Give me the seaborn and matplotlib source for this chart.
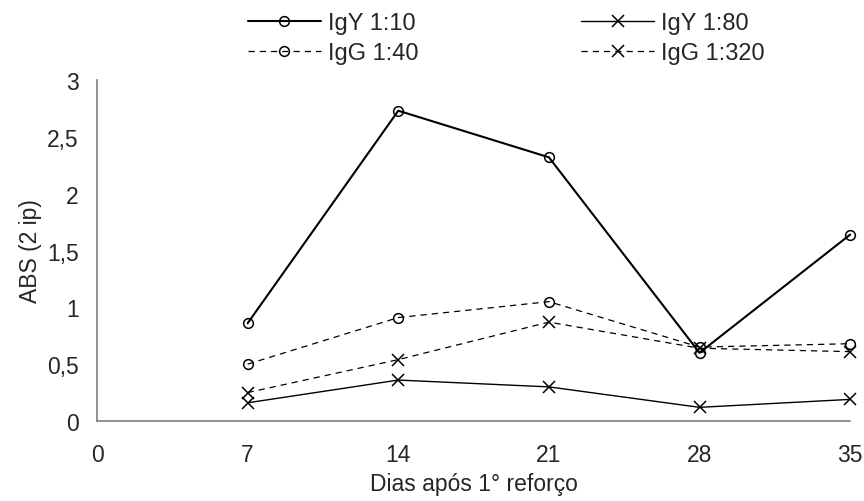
import matplotlib
matplotlib.use("Agg")
import matplotlib.pyplot as plt
import seaborn as sns
import pandas as pd

dias = [7, 14, 21, 28, 35]
igy_10 = [0.86, 2.73, 2.32, 0.60, 1.64]
igy_80 = [0.16, 0.36, 0.30, 0.12, 0.19]
igg_40 = [0.50, 0.91, 1.05, 0.65, 0.68]
igg_320 = [0.25, 0.54, 0.87, 0.64, 0.61]

y_ticks = [0, 0.5, 1, 1.5, 2, 2.5, 3]
y_labels = ["0", "0,5", "1", "1,5", "2", "2,5", "3"]
x_ticks = [0, 7, 14, 21, 28, 35]

sns.set_style("white")
plt.rcParams["font.family"] = ["Liberation Sans", "DejaVu Sans"]

fig = plt.figure(figsize=(8.64, 5.02), dpi=100)
ax = fig.add_axes([0.1123, 0.1594, 0.8717, 0.6792])

# legend order: column-wise fill so rows read IgY / IgG
series = [
    ("IgY 1:10", igy_10, "o", "-", 1.5, 7),
    ("IgG 1:40", igg_40, "o", (0, (5, 4)), 0.9, 7),
    ("IgY 1:80", igy_80, "x", "-", 1.0, 9),
    ("IgG 1:320", igg_320, "x", (0, (5, 4)), 0.9, 9),
]

for name, vals, mk, ls, lw, ms in series:
    df = pd.DataFrame({"dia": dias, "abs": vals})
    sns.lineplot(
        data=df, x="dia", y="abs", ax=ax,
        color="black", linewidth=lw, linestyle=ls,
        marker=mk, markersize=ms, markerfacecolor="none",
        markeredgecolor="black", markeredgewidth=1.1,
        label=name,
    )

ax.set_xlim(0, 35)
ax.set_ylim(0, 3)
ax.set_xticks(x_ticks)
ax.set_xticklabels([str(x) for x in x_ticks])
ax.set_yticks(y_ticks)
ax.set_yticklabels(y_labels)

for side in ["top", "right"]:
    ax.spines[side].set_visible(False)
for side in ["left", "bottom"]:
    ax.spines[side].set_color("#808080")
    ax.spines[side].set_linewidth(1.2)

ax.tick_params(axis="both", direction="out", length=5, width=1,
               color="#808080", labelsize=16.5)
ax.tick_params(axis="x", pad=11)
ax.tick_params(axis="y", pad=8)
ax.set_xlabel("Dias após 1° reforço", fontsize=16.5, labelpad=4)
ax.set_ylabel("ABS (2 ip)", fontsize=16.5, labelpad=4)

for sp in ax.spines.values():
    sp.set_clip_on(False)
for line in ax.lines:
    line.set_clip_on(False)

ax.legend(
    loc="center", bbox_to_anchor=(0.586, 0.922), bbox_transform=fig.transFigure,
    ncol=2, frameon=False, fontsize=17, handlelength=3.1,
    columnspacing=6.9, labelspacing=0.35, handletextpad=0.3,
    borderpad=0, borderaxespad=0,
)

fig.savefig("out.png", dpi=100)
